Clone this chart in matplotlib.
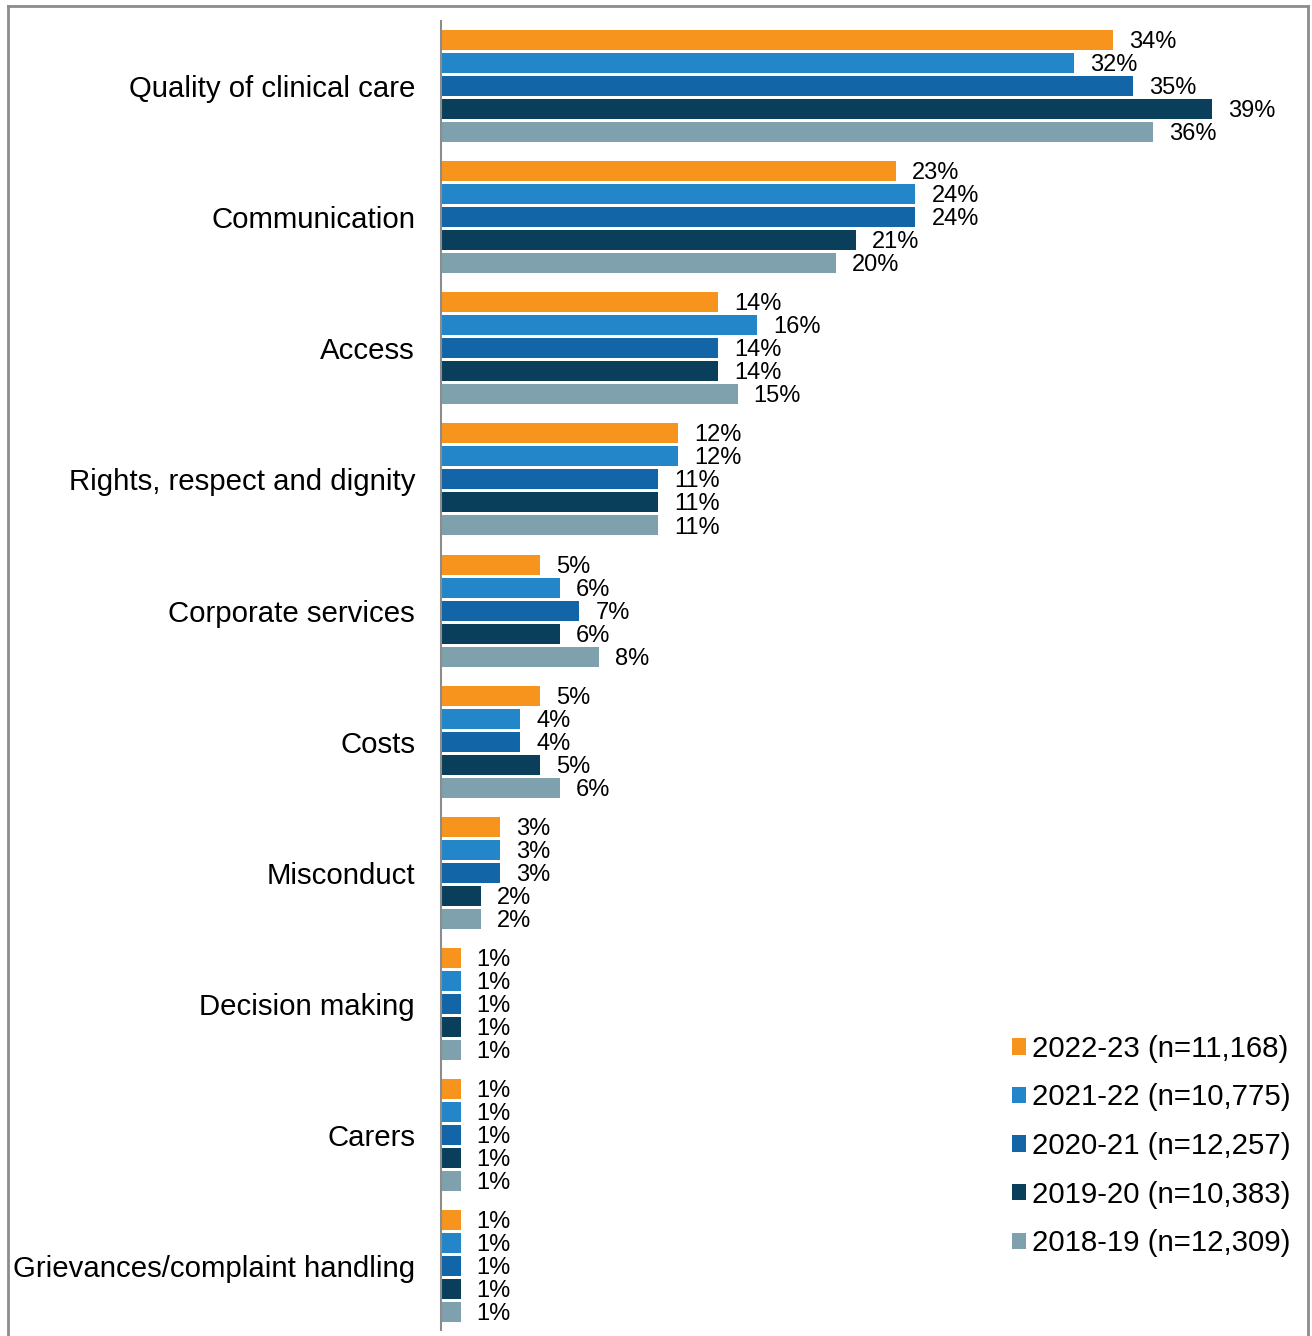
import matplotlib
matplotlib.use("Agg")
import matplotlib.pyplot as plt
from matplotlib.patches import Patch
from matplotlib.lines import Line2D

plt.rcParams['font.family'] = ['Liberation Sans', 'DejaVu Sans']

categories = ["Quality of clinical care", "Communication", "Access",
              "Rights, respect and dignity", "Corporate services", "Costs",
              "Misconduct", "Decision making", "Carers",
              "Grievances/complaint handling"]
series_labels = ["2022-23 (n=11,168)", "2021-22 (n=10,775)", "2020-21 (n=12,257)",
                 "2019-20 (n=10,383)", "2018-19 (n=12,309)"]
v2022 = [34, 23, 14, 12, 5, 5, 3, 1, 1, 1]
v2021 = [32, 24, 16, 12, 6, 4, 3, 1, 1, 1]
v2020 = [35, 24, 14, 11, 7, 4, 3, 1, 1, 1]
v2019 = [39, 21, 14, 11, 6, 5, 2, 1, 1, 1]
v2018 = [36, 20, 15, 11, 8, 6, 2, 1, 1, 1]
series = [v2022, v2021, v2020, v2019, v2018]
colors = ["#F7941D", "#2386C8", "#1266A8", "#0A3F5C", "#7FA0AD"]

W, H = 1312, 1336
fig = plt.figure(figsize=(W / 100, H / 100), dpi=100)
ax_left = 441 / W
ax_right = 1308 / W
ax_top = 1 - 21 / H
ax_bot = 1 - 1330 / H
ax = fig.add_axes([ax_left, ax_bot, ax_right - ax_left, ax_top - ax_bot])

group_step = 5.7
bar_h = 0.87
for si, vals in enumerate(series):
    ys = [gi * group_step + si for gi in range(len(categories))]
    ax.barh(ys, vals, height=bar_h, color=colors[si], edgecolor='none')
    for y, v in zip(ys, vals):
        ax.annotate(f"{v}%", xy=(v, y), xytext=(11.5, -1.5), textcoords='offset points',
                    va='center', ha='left', fontsize=17, color='black')

px_per_pct = 19.77
ax.set_xlim(0, (1308 - 441) / px_per_pct)
last = (len(categories) - 1) * group_step + 4
ax.set_ylim(last + 0.78, -0.83)
ax.set_yticks([gi * group_step + 2 for gi in range(len(categories))])
ax.set_yticklabels(categories, fontsize=21.2)
ax.tick_params(axis='y', length=0, pad=18.7)
ax.set_xticks([])
for s in ['top', 'right', 'bottom']:
    ax.spines[s].set_visible(False)
ax.spines['left'].set_color('#8c8c8c')
ax.spines['left'].set_linewidth(1.5)

handles = [Patch(facecolor=c, edgecolor='none') for c in colors]
fig.legend(handles, series_labels, loc='lower right',
           bbox_to_anchor=(1302 / W, 1 - 1269 / H), frameon=False,
           fontsize=21.2, handlelength=0.48, handleheight=0.48,
           handletextpad=0.2, labelspacing=0.7, borderaxespad=0)

# figure frame
bc = '#8c8c8c'
fig.add_artist(Line2D([8 / W, 1308 / W], [1 - 6 / H, 1 - 6 / H], transform=fig.transFigure, color=bc, lw=2))
fig.add_artist(Line2D([8 / W, 8 / W], [1 - 6 / H, 0], transform=fig.transFigure, color=bc, lw=2))
fig.add_artist(Line2D([1308 / W, 1308 / W], [1 - 6 / H, 0], transform=fig.transFigure, color=bc, lw=2))

fig.savefig("out.png", dpi=100)
